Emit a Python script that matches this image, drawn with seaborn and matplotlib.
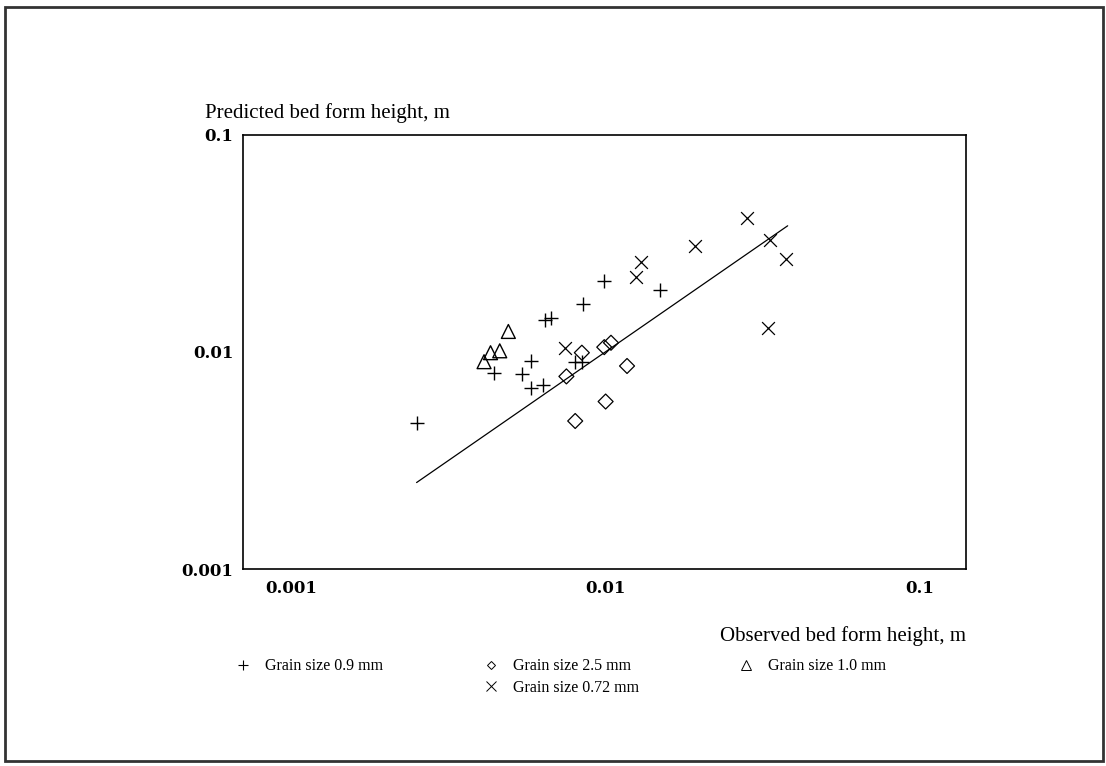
import matplotlib
matplotlib.use("Agg")
import matplotlib.pyplot as plt
import numpy as np
import pandas as pd
import seaborn as sns
from matplotlib.lines import Line2D
from matplotlib.patches import Rectangle
from matplotlib.ticker import FixedLocator, FixedFormatter, NullFormatter

# Observed vs. predicted bed form heights (m) for each sediment
obs_09 = [0.0025, 0.0044, 0.0054, 0.0058, 0.0058, 0.0063, 0.0064, 0.0067,
          0.0080, 0.0084, 0.0085, 0.0099, 0.0149]
pred_09 = [0.0047, 0.0080, 0.0079, 0.0091, 0.0068, 0.0070, 0.0140, 0.0143,
           0.0090, 0.0090, 0.0166, 0.0212, 0.0193]

obs_25 = [0.0075, 0.0084, 0.0080, 0.0099, 0.0104, 0.0117, 0.0100]
pred_25 = [0.0077, 0.0099, 0.0048, 0.0105, 0.0110, 0.0086, 0.0059]

obs_10 = [0.0041, 0.0043, 0.0046, 0.0049]
pred_10 = [0.0090, 0.0099, 0.0101, 0.0124]

obs_072 = [0.0074, 0.0125, 0.0130, 0.0193, 0.0283, 0.0335, 0.0374, 0.0329]
pred_072 = [0.0104, 0.0222, 0.0258, 0.0308, 0.0412, 0.0326, 0.0267, 0.0129]

# Line of perfect agreement (predicted = observed)
agreement = [0.0025, 0.038]

series_labels = ["Grain size 0.9 mm", "Grain size 2.5 mm",
                 "Grain size 1.0 mm", "Grain size 0.72 mm"]

major_ticks = [0.001, 0.01, 0.1]
major_tick_labels = ["0.001", "0.01", "0.1"]

x_label = "Observed bed form height, m"
y_label = "Predicted bed form height, m"

df = pd.concat([
    pd.DataFrame({"observed": obs_09, "predicted": pred_09, "grain": series_labels[0]}),
    pd.DataFrame({"observed": obs_25, "predicted": pred_25, "grain": series_labels[1]}),
    pd.DataFrame({"observed": obs_10, "predicted": pred_10, "grain": series_labels[2]}),
    pd.DataFrame({"observed": obs_072, "predicted": pred_072, "grain": series_labels[3]}),
], ignore_index=True)

sns.set_style("white")
plt.rcParams["font.family"] = ["Liberation Serif", "DejaVu Serif"]
plt.rcParams["text.color"] = "black"
plt.rcParams["axes.labelcolor"] = "black"
plt.rcParams["xtick.color"] = "black"
plt.rcParams["ytick.color"] = "black"

W, H = 1106, 766
fig = plt.figure(figsize=(W / 100, H / 100), dpi=100)
ax_l, ax_r, ax_t, ax_b = 243, 965.5, 134.5, 569
ax = fig.add_axes([ax_l / W, 1 - ax_b / H, (ax_r - ax_l) / W, (ax_b - ax_t) / H])

marker_styles = {
    series_labels[0]: dict(marker="+", s=95, linewidth=1.0, color="black"),
    series_labels[1]: dict(marker="D", s=58, facecolor="none", edgecolor="black", linewidth=0.9),
    series_labels[2]: dict(marker="^", s=100, facecolor="none", edgecolor="black", linewidth=1.0),
    series_labels[3]: dict(marker="x", s=85, linewidth=0.9, color="black"),
}

for label in series_labels:
    sub = df[df["grain"] == label]
    sns.scatterplot(data=sub, x="observed", y="predicted", ax=ax,
                    legend=False, zorder=3, **marker_styles[label])

sns.lineplot(x=agreement, y=agreement, ax=ax, color="black", linewidth=0.9)

ax.set_xscale("log")
ax.set_yscale("log")
ax.set_xlim(0.0007, 0.14)
ax.set_ylim(0.001, 0.1)

minor = [m * d for d in (0.001, 0.01) for m in range(2, 10)]
for axis in (ax.xaxis, ax.yaxis):
    axis.set_major_locator(FixedLocator(major_ticks))
    axis.set_major_formatter(FixedFormatter(major_tick_labels))
    axis.set_minor_locator(FixedLocator(minor))
    axis.set_minor_formatter(NullFormatter())

ax.tick_params(which="both", direction="in", length=7.5, width=1.0,
               color="black", top=False, right=False)
ax.tick_params(axis="x", which="major", pad=8)
ax.tick_params(axis="y", which="major", pad=7)
for lab in ax.get_xticklabels() + ax.get_yticklabels():
    lab.set_fontfamily("DejaVu Serif")
    lab.set_fontweight("bold")
    lab.set_fontsize(12)

for sp in ax.spines.values():
    sp.set_visible(True)
    sp.set_color("black")
    sp.set_linewidth(1.2)

ax.set_xlabel(x_label, fontsize=15, ha="right", va="center")
ax.xaxis.set_label_coords(1.0, -0.154)
ax.set_ylabel(y_label, fontsize=15, rotation=0, ha="left", va="center")
ax.yaxis.set_label_coords(-0.0526, 1.05)

# Legend: three columns, the fourth entry sits under the second column
blank = Line2D([], [], linestyle="", marker="")
handles = [
    Line2D([], [], linestyle="", marker="+", color="black", markersize=7, markeredgewidth=0.8),
    blank,
    Line2D([], [], linestyle="", marker="D", markerfacecolor="none", markeredgecolor="black",
           markersize=4.5, markeredgewidth=0.7),
    Line2D([], [], linestyle="", marker="x", color="black", markersize=6.5, markeredgewidth=0.7),
    Line2D([], [], linestyle="", marker="^", markerfacecolor="none", markeredgecolor="black",
           markersize=6.5, markeredgewidth=0.7),
    blank,
]
labels = [series_labels[0], "", series_labels[1], series_labels[3], series_labels[2], ""]
fig.legend(handles, labels, ncol=3, loc="center left",
           bbox_to_anchor=(233.5 / W, 1 - 677 / H), frameon=False, fontsize=11.5,
           handlelength=1.2, handletextpad=0.8, columnspacing=6.1,
           labelspacing=0.35, borderpad=0, borderaxespad=0)

# Page frame
fig.patches.append(Rectangle((5 / W, 1 - 761 / H), (1103 - 5) / W, (761 - 7) / H,
                             transform=fig.transFigure, fill=False,
                             edgecolor="#333333", linewidth=2.0))

fig.savefig("out.png", dpi=100, facecolor="white")
